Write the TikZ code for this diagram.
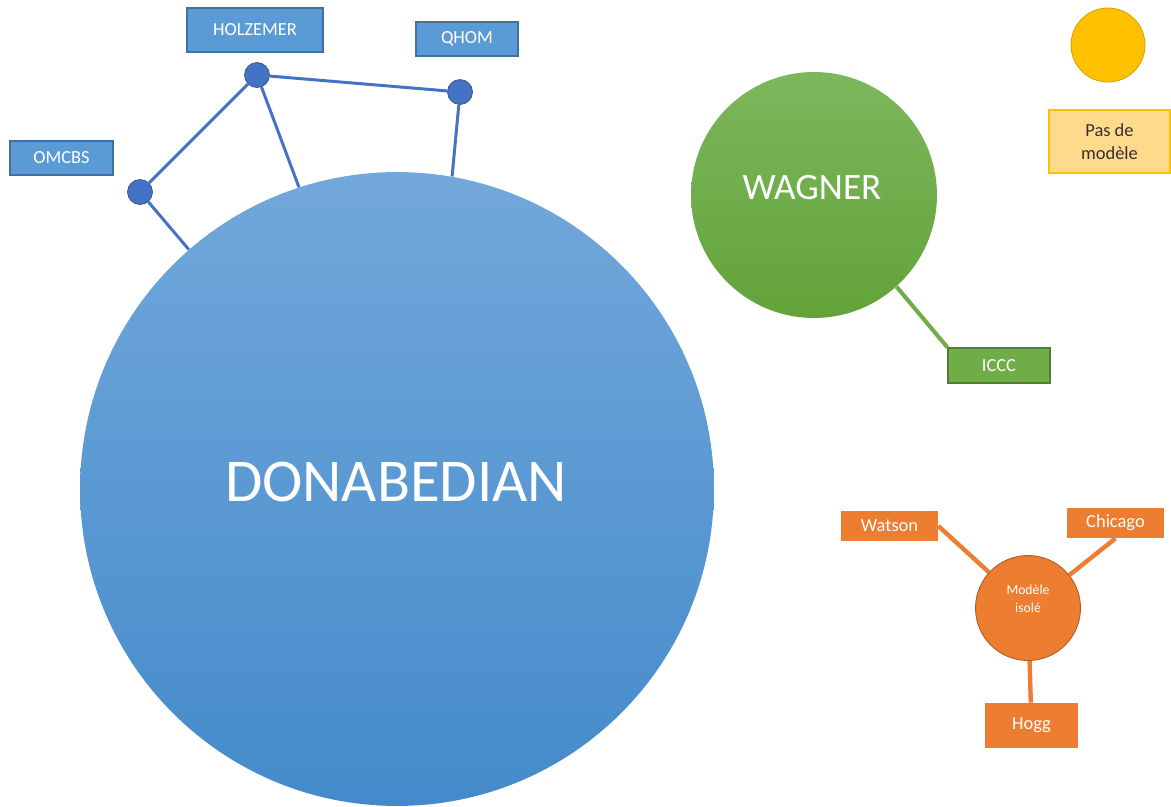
\documentclass[tikz,border=0pt]{standalone}
\usepackage{fontspec}
\setmainfont{Carlito}
\usetikzlibrary{positioning}

\definecolor{dontop}{RGB}{114,168,219}
\definecolor{donbottom}{RGB}{68,138,202}
\definecolor{boxblue}{RGB}{91,155,213}
\definecolor{boxblueline}{RGB}{65,113,156}
\definecolor{linkblue}{RGB}{68,114,196}
\definecolor{dotline}{RGB}{47,82,143}
\definecolor{wagtop}{RGB}{125,183,93}
\definecolor{wagbottom}{RGB}{99,163,57}
\definecolor{wgreen}{RGB}{112,173,71}
\definecolor{wgreenline}{RGB}{80,126,50}
\definecolor{iorange}{RGB}{237,125,49}
\definecolor{iorangeline}{RGB}{174,90,33}
\definecolor{nyellow}{RGB}{255,192,0}
\definecolor{nyellowline}{RGB}{214,162,0}
\definecolor{nyellowbox}{RGB}{255,217,140}
\definecolor{ntext}{RGB}{50,50,50}

\begin{document}
\begin{tikzpicture}[x=0.02cm, y=-0.02cm,
    labelfont/.style={font=\fontsize{10.5}{13}\selectfont},
    bluebox/.style={draw=boxblueline, fill=boxblue, text=white, labelfont, inner sep=0pt, line width=0.6pt},
    bluedot/.style={draw=dotline, fill=linkblue, circle, minimum size=0.5cm, inner sep=0pt, line width=0.4pt},
    bluelink/.style={linkblue, line width=1.7pt},
    greenbox/.style={draw=wgreenline, fill=wgreen, text=white, labelfont, inner sep=0pt, line width=0.6pt},
    greenlink/.style={wgreen, line width=2.3pt},
    orangebox/.style={fill=iorange, text=white, labelfont, inner sep=0pt},
    orangelink/.style={iorange, line width=2.5pt}]
    \useasboundingbox (0,0) rectangle (1171,806);

    % circles
    \node[circle, top color=dontop, bottom color=donbottom, minimum size=12.68cm, inner sep=0pt] (don) at (397,489) {};
    \node[text=white, font=\fontsize{34.6}{40}\selectfont] (dontext) at (396,482) {DONABEDIAN};

    \node[circle, top color=wagtop, bottom color=wagbottom, minimum size=4.92cm, inner sep=0pt] (wag) at (814,195) {};
    \node[text=white, font=\fontsize{21.2}{25}\selectfont] (wagtext) at (812,188) {WAGNER};

    \node[circle, draw=iorangeline, fill=iorange, minimum size=2.1cm, inner sep=0pt, line width=0.5pt] (iso) at (1028,608) {};
    \node[text=white, align=center, font=\fontsize{7.8}{10}\selectfont] (isotext) at (1028,599) {Modèle\\isolé};

    \node[circle, draw=nyellowline, fill=nyellow, minimum size=1.48cm, inner sep=0pt, line width=0.5pt] (nomod) at (1108,45) {};

    % boxes
    \node[bluebox, minimum width=2.72cm, minimum height=0.88cm] (holz) at (255,30) {HOLZEMER};
    \node[bluebox, minimum width=2.04cm, minimum height=0.68cm] (qhom) at (467,39) {QHOM};
    \node[bluebox, minimum width=2.06cm, minimum height=0.68cm] (omcbs) at (61.5,158) {OMCBS};

    \node[greenbox, minimum width=2.04cm, minimum height=0.70cm] (iccc) at (999,365.5) {ICCC};

    \node[orangebox, minimum width=1.94cm, minimum height=0.60cm] (watson) at (889.5,526) {Watson};
    \node[orangebox, minimum width=1.94cm, minimum height=0.60cm] (chicago) at (1115.5,523) {Chicago};
    \node[orangebox, minimum width=1.86cm, minimum height=0.90cm] (hogg) at (1031.5,725.5) {Hogg};

    \node[draw=nyellow, fill=nyellowbox, text=ntext, labelfont, align=center, minimum width=2.42cm, minimum height=1.26cm, inner sep=0pt, line width=0.8pt] (pasbox) at (1109.5,141.5) {Pas de\\modèle};

    % dots
    \node[bluedot] (holzdot) at (257,75) {};
    \node[bluedot] (qhomdot) at (460,92) {};
    \node[bluedot] (omcbsdot) at (140,192) {};

    % links
    \draw[bluelink] (omcbsdot) -- (holzdot);
    \draw[bluelink] (holzdot) -- (qhomdot);
    \draw[bluelink] (omcbsdot) -- (don.131.5);
    \draw[bluelink] (holzdot) -- (don.108);
    \draw[bluelink] (qhomdot) -- (don.80.7);

    \draw[greenlink] (wag.-48) -- (iccc.north west);

    \draw[orangelink] (watson.east) -- (iso);
    \draw[orangelink] (chicago.south) -- (iso);
    \draw[orangelink] (iso) -- (hogg);

\end{tikzpicture}
\end{document}
